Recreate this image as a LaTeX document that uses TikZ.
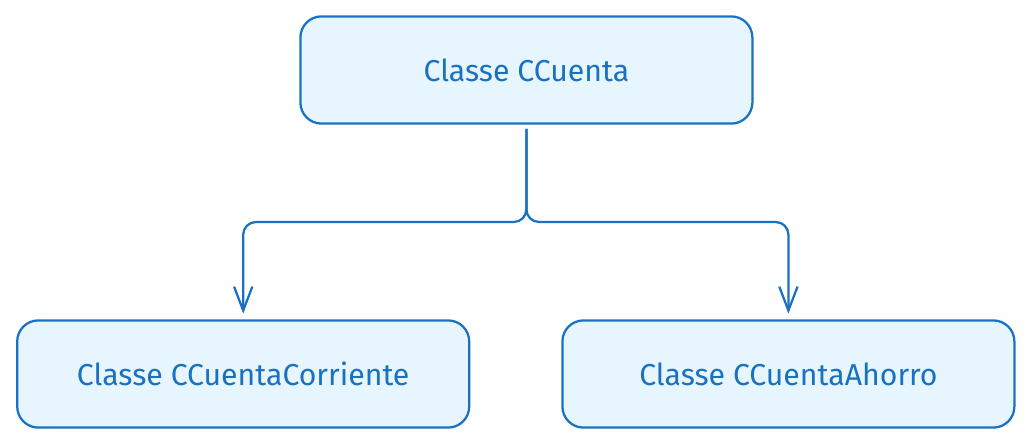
\documentclass[tikz,border=0pt]{standalone}
\usepackage{fontspec}
\setmainfont{Fira Sans}
\usetikzlibrary{arrows.meta}
\definecolor{strokeblue}{HTML}{1971C2}
\definecolor{fillblue}{HTML}{E7F5FF}

\begin{document}
\begin{tikzpicture}[
    classbox/.style = {draw=strokeblue, fill=fillblue, line width=1.6pt, rounded corners=15pt,
                       minimum width=11.3cm, minimum height=2.68cm, text=strokeblue,
                       font=\fontsize{21.5}{25}\selectfont},
    link/.style = {draw=strokeblue, line width=1.6pt, rounded corners=9pt,
                   -{Straight Barb[length=17pt,width=13pt,line width=1.6pt]}, shorten >=4pt}
  ]
      \useasboundingbox (0,0) rectangle (25.775,11.1);

      \node[classbox] (cuenta) at (13.16, 9.35) {Classe CCuenta};
      \node[classbox] (corriente) at (6.08, 1.75) {Classe CCuentaCorriente};
      \node[classbox] (ahorro) at (19.71, 1.75) {Classe CCuentaAhorro};

      \coordinate (split) at (13.16, 5.55);

      \draw[link] ([yshift=-3pt]cuenta.south) -- (split) -| (corriente.north);
      \draw[link] ([yshift=-3pt]cuenta.south) -- (split) -| (ahorro.north);
\end{tikzpicture}
\end{document}
